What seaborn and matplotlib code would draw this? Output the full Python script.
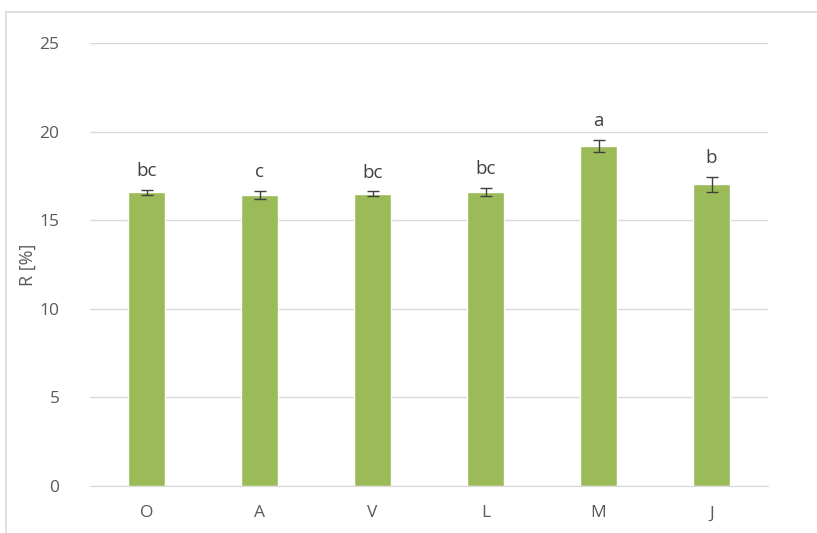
import matplotlib
matplotlib.use("Agg")
import matplotlib.pyplot as plt
import seaborn as sns
import pandas as pd
from matplotlib.patches import Rectangle

categories = ["O", "A", "V", "L", "M", "J"]
values = [16.58, 16.42, 16.49, 16.58, 19.2, 17.03]
errors = [0.15, 0.25, 0.14, 0.24, 0.33, 0.42]
letters = ["bc", "c", "bc", "bc", "a", "b"]

df = pd.DataFrame({"cat": categories, "R": values})

sns.set_style("white")
plt.rcParams["font.family"] = ["Open Sans", "DejaVu Sans"]

fig = plt.figure(figsize=(8.17, 5.33), dpi=100)
ax = fig.add_axes([90 / 817, 47 / 533, 678 / 817, 443 / 533])

# chart-area frame (left and top edges visible)
fig.patches.append(Rectangle((6 / 817, -0.1), 1.2, (533 - 12) / 533 + 0.1,
                             transform=fig.transFigure, fill=False,
                             edgecolor="#d9d9d9", linewidth=1.2))

sns.barplot(data=df, x="cat", y="R", color="#9bbb59", saturation=1,
            width=0.32, ax=ax, errorbar=None)
ax.errorbar(range(len(categories)), values, yerr=errors, fmt="none",
            ecolor="#404040", elinewidth=1, capsize=4, capthick=1)

for i, (v, e, t) in enumerate(zip(values, errors, letters)):
    ax.annotate(t, (i, v + e), xytext=(0, 7), textcoords="offset points",
                ha="center", va="bottom", fontsize=13.5, color="#404040")

ax.set_ylim(0, 25)
ax.set_yticks([0, 5, 10, 15, 20, 25])
ax.set_xlim(-0.5, 5.5)
ax.yaxis.grid(True, color="#d9d9d9", linewidth=1)
ax.set_axisbelow(True)
for s in ["top", "right", "left"]:
    ax.spines[s].set_visible(False)
ax.spines["bottom"].set_color("#d9d9d9")
ax.tick_params(axis="both", length=0, labelsize=12.5, labelcolor="#595959")
ax.tick_params(axis="y", pad=22)
ax.tick_params(axis="x", pad=14)
ax.set_xlabel("")
ax.set_ylabel("R [%]", fontsize=13, color="#595959")
ax.yaxis.set_label_coords(-0.078, 0.5)

fig.savefig("out.png", dpi=100)
